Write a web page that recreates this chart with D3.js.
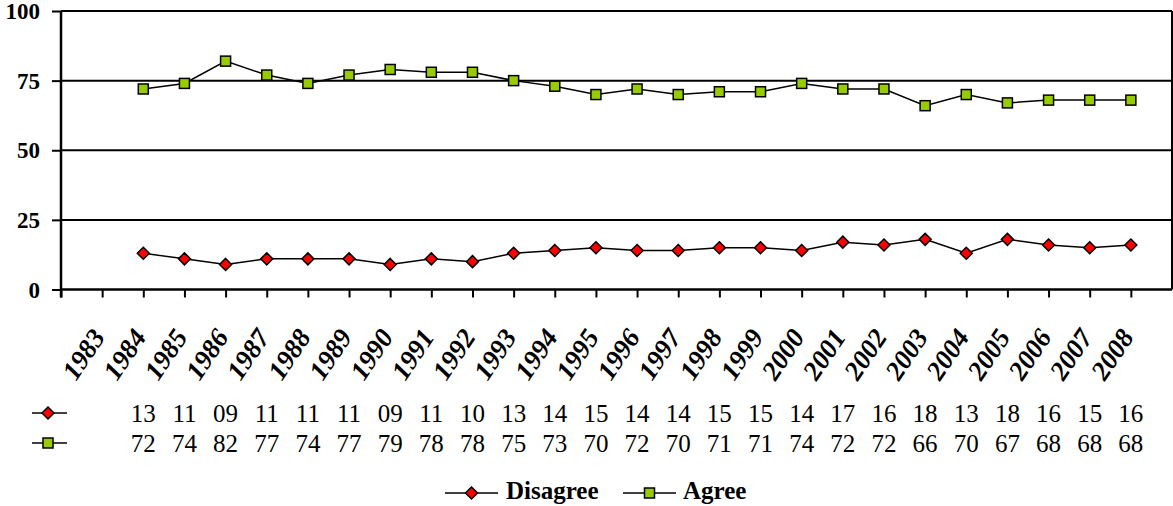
<!DOCTYPE html>
<html>
<head>
<meta charset="utf-8">
<script src="https://cdn.jsdelivr.net/npm/d3@7"></script>
<style>
  html, body { margin: 0; padding: 0; background: #fff; }
  svg { display: block; }
</style>
</head>
<body>
<svg id="chart" width="1173" height="506"></svg>
<script>
// ---- data ----
const categories = [1983, 1984, 1985, 1986, 1987, 1988, 1989, 1990, 1991, 1992, 1993, 1994, 1995,
  1996, 1997, 1998, 1999, 2000, 2001, 2002, 2003, 2004, 2005, 2006, 2007, 2008];
const dataYears = [1984, 1985, 1986, 1987, 1988, 1989, 1990, 1991, 1992, 1993, 1994, 1995,
  1996, 1997, 1998, 1999, 2000, 2001, 2002, 2003, 2004, 2005, 2006, 2007, 2008];
const disagree = [13, 11, 9, 11, 11, 11, 9, 11, 10, 13, 14, 15, 14, 14, 15, 15, 14, 17, 16, 18, 13, 18, 16, 15, 16];
const agree = [72, 74, 82, 77, 74, 77, 79, 78, 78, 75, 73, 70, 72, 70, 71, 71, 74, 72, 72, 66, 70, 67, 68, 68, 68];
const yTicks = [0, 25, 50, 75, 100];
const seriesNames = ["Disagree", "Agree"];

(function () {
// ---- layout ----
const svg = d3.select("#chart");
const pLeft = 61, pRight = 1172, pTop = 11, pBottom = 289.5;
const x = d3.scaleLinear().domain([1982, 2009]).range([pLeft, pRight]);
const y = d3.scaleLinear().domain([0, 100]).range([pBottom, pTop]);

const serif = "Liberation Serif";

// gridlines
svg.append("g").selectAll("line").data(yTicks.filter(d => d > 0)).join("line")
  .attr("x1", pLeft).attr("x2", pRight)
  .attr("y1", d => y(d)).attr("y2", d => y(d))
  .attr("stroke", "#000").attr("stroke-width", 2);

// right border
svg.append("line").attr("x1", pRight).attr("x2", pRight).attr("y1", pTop).attr("y2", pBottom)
  .attr("stroke", "#000").attr("stroke-width", 2);

// y axis
const yAxis = svg.append("g").attr("transform", `translate(${pLeft},0)`)
  .call(d3.axisLeft(y).tickValues(yTicks).tickSize(9).tickPadding(12).tickFormat(d3.format("d")));
yAxis.attr("font-family", serif);
yAxis.select(".domain").attr("stroke-width", 2.5).attr("d", `M0,${pTop}V${pBottom + 8}`);
yAxis.selectAll(".tick line").attr("stroke-width", 2);
yAxis.selectAll("text").attr("font-family", serif).attr("font-weight", "bold")
  .attr("font-size", 23).attr("fill", "#000").attr("dy", "0.33em");

// x axis
const tickVals = [1982].concat(categories);
const xAxis = svg.append("g").attr("transform", `translate(0,${pBottom})`)
  .call(d3.axisBottom(x).tickValues(tickVals).tickSize(8).tickFormat(""));
xAxis.select(".domain").attr("stroke-width", 2.5).attr("d", `M${pLeft},0H${pRight}`);
xAxis.selectAll(".tick line").attr("stroke-width", 2);

// x labels
svg.append("g").selectAll("text").data(categories).join("text")
  .attr("transform", d => `translate(${x(d) + 4},${337}) rotate(-56)`)
  .attr("text-anchor", "end")
  .attr("font-family", serif).attr("font-weight", "bold").attr("font-style", "italic")
  .attr("font-size", 27).attr("fill", "#000")
  .text(d => d);

// lines & markers
const line = d3.line().x((d, i) => x(dataYears[i])).y(d => y(d));
function diamond(g, cx, cy, r) {
  g.append("path").attr("d", `M${cx},${cy - r}L${cx + r},${cy}L${cx},${cy + r}L${cx - r},${cy}Z`)
    .attr("fill", "#FF0000").attr("stroke", "#000").attr("stroke-width", 1.5);
}
function square(g, cx, cy, s) {
  g.append("rect").attr("x", cx - s / 2).attr("y", cy - s / 2).attr("width", s).attr("height", s)
    .attr("fill", "#99CC00").attr("stroke", "#000").attr("stroke-width", 1.5);
}

svg.append("path").datum(agree).attr("d", line).attr("fill", "none").attr("stroke", "#000").attr("stroke-width", 1.5);
svg.append("path").datum(disagree).attr("d", line).attr("fill", "none").attr("stroke", "#000").attr("stroke-width", 1.5);
const mk = svg.append("g");
agree.forEach((v, i) => square(mk, x(dataYears[i]), y(v), 10));
disagree.forEach((v, i) => diamond(mk, x(dataYears[i]), y(v), 6));

// data table
const table = svg.append("g");
const fmt = d3.format("02d");
[[disagree, 422], [agree, 452]].forEach(([arr, by]) => {
  table.append("g").selectAll("text").data(arr).join("text")
    .attr("x", (d, i) => x(dataYears[i])).attr("y", by)
    .attr("text-anchor", "middle").attr("font-family", serif).attr("font-size", 25).attr("fill", "#000")
    .text(d => fmt(d));
});
// table legend keys
[[0, 413], [1, 443]].forEach(([k, cy]) => {
  table.append("line").attr("x1", 32).attr("x2", 67).attr("y1", cy).attr("y2", cy)
    .attr("stroke", "#000").attr("stroke-width", 1.5);
  if (k === 0) diamond(table, 48, cy, 6); else square(table, 48, cy, 10);
});

// bottom legend
const leg = svg.append("g");
const legItems = [{x1: 445, x2: 498, tx: 506}, {x1: 623, x2: 676, tx: 683}];
seriesNames.forEach((name, i) => {
  const it = legItems[i], cy = 493, cx = (it.x1 + it.x2) / 2;
  leg.append("line").attr("x1", it.x1).attr("x2", it.x2).attr("y1", cy).attr("y2", cy)
    .attr("stroke", "#000").attr("stroke-width", 1.5);
  if (i === 0) diamond(leg, cx, cy, 6); else square(leg, cx, cy, 10);
  leg.append("text").attr("x", it.tx).attr("y", 499)
    .attr("font-family", serif).attr("font-weight", "bold").attr("font-size", 25).attr("fill", "#000")
    .text(name);
});
})();
</script>
</body>
</html>
